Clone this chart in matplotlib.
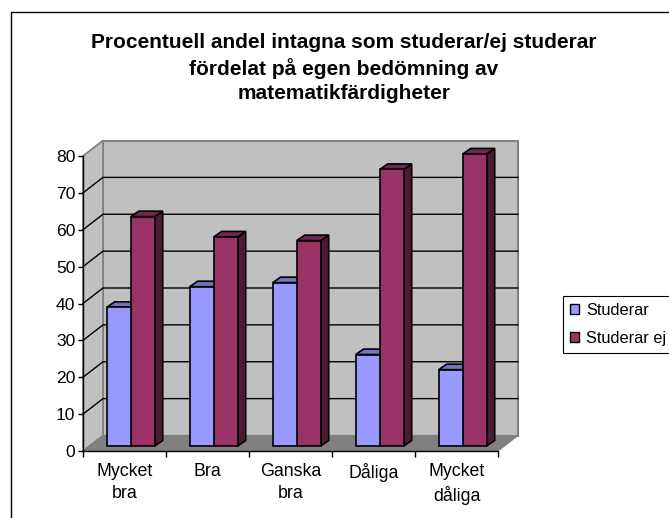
import matplotlib
matplotlib.use("Agg")
import matplotlib.pyplot as plt
from matplotlib.patches import Polygon, Rectangle
from matplotlib.lines import Line2D

categories = ["Mycket\nbra", "Bra", "Ganska\nbra", "Dåliga", "Mycket\ndåliga"]
studerar = [37.6, 43.2, 44.3, 24.8, 20.7]
studerar_ej = [62.2, 56.7, 55.7, 75.0, 79.2]
series_names = ["Studerar", "Studerar ej"]
title = "Procentuell andel intagna som studerar/ej studerar\nfördelat på egen bedömning av\nmatematikfärdigheter"
yticks = list(range(0, 90, 10))

W, H = 669, 518
plt.rcParams["font.family"] = ["Liberation Sans", "DejaVu Sans"]
fig = plt.figure(figsize=(W / 100, H / 100), dpi=100)
ax = fig.add_axes([83 / W, 1 - 451 / H, 415 / W, 295 / H])
ax.set_xlim(0, 5)
ax.set_ylim(0, 80)
ax.patch.set_visible(False)
for s in ["top", "right"]:
    ax.spines[s].set_visible(False)
for s in ["left", "bottom"]:
    ax.spines[s].set_color("black")
    ax.spines[s].set_linewidth(1.0)
    ax.spines[s].set_zorder(5)

PX = 5 / 415
PY = 80 / 295
DX, DY = 20 * PX, 15.5 * PY

def poly(pts, fc, ec="none", lw=0.0, z=1):
    ax.add_patch(Polygon(pts, closed=True, fc=fc, ec=ec, lw=lw, zorder=z, clip_on=False))

wall = "#C0C0C0"
edge = "#808080"
# back wall, side wall, floor
poly([(DX, DY), (5 + DX, DY), (5 + DX, 80 + DY), (DX, 80 + DY)], wall, edge, 1.5, 1)
poly([(0, 0), (DX, DY), (DX, 80 + DY), (0, 80)], wall, edge, 1.2, 1)
poly([(0, 0), (5, 0), (5 + DX, DY), (DX, DY)], edge, edge, 0.8, 1)

# gridlines on walls
for v in yticks[1:-1]:
    ax.plot([0, DX, 5 + DX], [v, v + DY, v + DY], color="black", lw=1.0, zorder=2, clip_on=False)

# bars
BX0, BW = 23.7 * PX, 24 * PX
BDX, BDY = 8 * PX, 5.5 * PY
BASE = 5 * PY

def bar3d(x, v, front, top, side):
    y0, y1 = BASE, BASE + v
    poly([(x + BW, y0), (x + BW + BDX, y0 + BDY), (x + BW + BDX, y1 + BDY), (x + BW, y1)],
         side, "black", 1.2, 3)
    poly([(x, y1), (x + BDX, y1 + BDY), (x + BW + BDX, y1 + BDY), (x + BW, y1)],
         top, "black", 1.2, 3)
    poly([(x, y0), (x + BW, y0), (x + BW, y1), (x, y1)], front, "black", 1.2, 4)

for i, (a, b) in enumerate(zip(studerar, studerar_ej)):
    bar3d(i + BX0 + BW, b, "#993366", "#732650", "#4D1A33")
    bar3d(i + BX0, a, "#9999FF", "#7373BF", "#4D4D80")

ax.set_yticks(yticks)
ax.set_xticks(range(6))
ax.set_xticklabels([])
ax.tick_params(axis="y", length=3.6, width=1.0, labelsize=12.6, pad=2, direction="out")
ax.tick_params(axis="x", length=4, width=1.0, direction="out")
for i, c in enumerate(categories):
    ax.annotate(c, (i + 0.5, 0), xytext=(0, -9), textcoords="offset points", ha="center", va="top",
                fontsize=12.8, linespacing=1.36, annotation_clip=False)

fig.text(344 / W, 1 - 33 / H, title, ha="center", va="top", fontsize=15, fontweight="bold", linespacing=1.33)

# chart frame
fig.add_artist(Line2D([10.7 / W, 10.7 / W, 1], [0, 1 - 12 / H, 1 - 12 / H], color="black", lw=1.0))

# legend
handles = [Rectangle((0, 0), 1, 1, fc="#9999FF", ec="black", lw=1.0),
           Rectangle((0, 0), 1, 1, fc="#993366", ec="black", lw=1.0)]
leg = fig.legend(handles, series_names, loc="upper left", bbox_to_anchor=(563.3 / W, 1 - 295.7 / H),
                 frameon=True, fancybox=False, edgecolor="black", framealpha=1, fontsize=11.8,
                 borderaxespad=0, borderpad=0.42, handlelength=0.55, handleheight=0.55, handletextpad=0.41,
                 labelspacing=0.81)
leg.get_frame().set_linewidth(0.8)

fig.savefig("out.png", dpi=100)
